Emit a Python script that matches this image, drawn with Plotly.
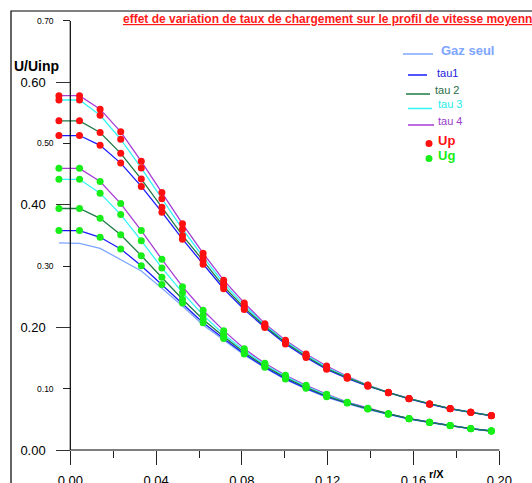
import plotly.graph_objects as go

W, H = 532, 483

# ---- data ----
r = [-0.0053, 0.0043, 0.0139, 0.0235, 0.0331, 0.0427, 0.0523, 0.0619, 0.0715, 0.0811,
     0.0907, 0.1003, 0.1099, 0.1195, 0.1291, 0.1387, 0.1483, 0.1579, 0.1675, 0.1771,
     0.1867, 0.1963]

gaz_seul = [0.338, 0.337, 0.329, 0.311, 0.292, 0.264, 0.235, 0.204, 0.179, 0.155, 0.134,
            0.115, 0.0995, 0.086, 0.0755, 0.066, 0.058, 0.0505, 0.0445, 0.039, 0.0345, 0.0305]

up_tau1 = [0.513, 0.513, 0.497, 0.468, 0.430, 0.388, 0.344, 0.303, 0.263, 0.229, 0.200,
           0.173, 0.151, 0.1316, 0.117, 0.104, 0.0932, 0.0835, 0.0748, 0.0673, 0.0614, 0.0558]
up_tau2 = [0.537, 0.537, 0.518, 0.484, 0.442, 0.396, 0.350, 0.309, 0.267, 0.232, 0.202,
           0.175, 0.153, 0.133, 0.118, 0.105, 0.0935, 0.0837, 0.075, 0.0674, 0.0615, 0.056]
up_tau3 = [0.571, 0.571, 0.546, 0.507, 0.460, 0.410, 0.3605, 0.315, 0.272, 0.236, 0.204,
           0.177, 0.155, 0.135, 0.119, 0.1055, 0.0938, 0.0839, 0.0751, 0.0675, 0.0616, 0.0561]
up_tau4 = [0.578, 0.578, 0.556, 0.519, 0.471, 0.420, 0.369, 0.321, 0.277, 0.240, 0.206,
           0.179, 0.1566, 0.137, 0.120, 0.106, 0.0941, 0.0841, 0.0752, 0.0676, 0.0617, 0.0562]

ug_tau1 = [0.358, 0.358, 0.347, 0.328, 0.3007, 0.270, 0.240, 0.2077, 0.182, 0.1566, 0.135,
           0.116, 0.1006, 0.087, 0.0765, 0.067, 0.0585, 0.051, 0.045, 0.0397, 0.0348, 0.031]
ug_tau2 = [0.394, 0.394, 0.378, 0.351, 0.317, 0.282, 0.246, 0.213, 0.185, 0.159, 0.137,
           0.118, 0.102, 0.088, 0.077, 0.0673, 0.0587, 0.0511, 0.0451, 0.0398, 0.0348, 0.031]
ug_tau3 = [0.4416, 0.4416, 0.419, 0.384, 0.3415, 0.297, 0.2567, 0.220, 0.189, 0.162, 0.139,
           0.120, 0.104, 0.090, 0.0775, 0.0676, 0.059, 0.0512, 0.0452, 0.0399, 0.0349, 0.0311]
ug_tau4 = [0.4595, 0.4595, 0.438, 0.402, 0.358, 0.311, 0.2665, 0.228, 0.1947, 0.165, 0.1414,
           0.122, 0.1055, 0.091, 0.078, 0.068, 0.0592, 0.0513, 0.0453, 0.04, 0.035, 0.0312]

x_major = [0.00, 0.04, 0.08, 0.12, 0.16, 0.20]
x_minor = [0.02, 0.06, 0.10, 0.14, 0.18]
y_major = [0.00, 0.20, 0.40, 0.60]
y_minor = [0.10, 0.30, 0.50, 0.70]

# ---- styles ----
C_GAZ = "#7ea6ff"
C_TAU = ["#1a1aff", "#1f7a45", "#33f5f5", "#a83cd6"]
C_UP = "#ff1010"
C_UG = "#18ee18"
FONT = "Liberation Sans, Arial, sans-serif"

# pixel mapping helpers (axis placement only)
X0PX, XSCALE = 70.3, 2145.0     # r=0 at px 70.3
Y0PX, YSCALE = 450.0, 613.0     # v=0 at px 450
xr = [(0 - X0PX) / XSCALE, (W - X0PX) / XSCALE]
yr = [(Y0PX - H) / YSCALE, Y0PX / YSCALE]

fig = go.Figure()

fig.add_trace(go.Scatter(x=r, y=gaz_seul, mode="lines",
                         line=dict(color=C_GAZ, width=1.3), showlegend=False, hoverinfo="skip"))

ups = [up_tau1, up_tau2, up_tau3, up_tau4]
ugs = [ug_tau1, ug_tau2, ug_tau3, ug_tau4]
for k in [3, 2, 0, 1]:
    fig.add_trace(go.Scatter(x=r, y=ugs[k], mode="lines",
                             line=dict(color=C_TAU[k], width=1.3), showlegend=False))
for k in [3, 2, 0, 1]:
    fig.add_trace(go.Scatter(x=r, y=ups[k], mode="lines",
                             line=dict(color=C_TAU[k], width=1.3), showlegend=False))
for k in range(4):
    fig.add_trace(go.Scatter(x=r, y=ugs[k], mode="markers",
                             marker=dict(color=C_UG, size=7), showlegend=False, cliponaxis=False))
for k in range(4):
    fig.add_trace(go.Scatter(x=r, y=ups[k], mode="markers",
                             marker=dict(color=C_UP, size=7), showlegend=False, cliponaxis=False))

# dummy trace for the secondary y axis (small tick labels)
fig.add_trace(go.Scatter(x=[None], y=[None], yaxis="y2", showlegend=False, hoverinfo="skip"))

fig.update_layout(
    width=W, height=H, margin=dict(l=0, r=0, t=0, b=0, autoexpand=False),
    paper_bgcolor="white", plot_bgcolor="white",
    font=dict(family=FONT, color="black"),
    xaxis=dict(range=xr, domain=[0, 1], anchor="free", position=1 - Y0PX / H,
               automargin=False,
               showgrid=False, zeroline=False, showline=False,
               tickmode="array", tickvals=x_major, tickformat=".2f",
               ticks="outside", ticklen=14, tickwidth=1, tickcolor="#222",
               tickfont=dict(size=13, family=FONT, color="black"),
               ticklabelstandoff=4,
               minor=dict(tickmode="array", tickvals=x_minor, ticks="outside",
                          ticklen=7, tickwidth=1, tickcolor="#222")),
    yaxis=dict(range=yr, domain=[0, 1], anchor="free", position=X0PX / W,
               automargin=False,
               showgrid=False, zeroline=False, showline=False,
               tickmode="array", tickvals=y_major, tickformat=".2f",
               ticks="outside", ticklen=14, tickwidth=1, tickcolor="#333",
               tickfont=dict(size=13, family=FONT, color="black"),
               ticklabelstandoff=8),
    yaxis2=dict(range=yr, overlaying="y", anchor="free", position=X0PX / W, side="left",
                automargin=False,
                showgrid=False, zeroline=False, showline=False,
                tickmode="array", tickvals=y_minor, tickformat=".2f",
                ticks="outside", ticklen=7, tickwidth=1, tickcolor="#222",
                tickfont=dict(size=8.5, family=FONT, color="black"),
                ticklabelstandoff=8),
)

shapes = [
    # axis lines
    dict(type="line", xref="x", yref="y", x0=0, x1=0.2, y0=0, y1=0, line=dict(color="black", width=1.2)),
    dict(type="line", xref="x", yref="y", x0=0, x1=0, y0=0, y1=0.7, line=dict(color="black", width=1.2)),
    # frame
    dict(type="rect", xref="paper", yref="paper", x0=11 / W, x1=1.2, y0=-0.2, y1=1 - 11 / H,
         line=dict(color="black", width=1.2)),
]

annotations = [
    dict(text="<u><b>effet de variation de taux de chargement sur le profil de vitesse moyenne</b></u>",
         xref="paper", yref="paper", x=121 / W, y=1 - 19 / H, xanchor="left", yanchor="middle",
         showarrow=False, font=dict(size=12, color="#ff1a1a", family=FONT)),
    dict(text="<b>U/Uinp</b>", xref="paper", yref="paper", x=12 / W, y=1 - 66 / H,
         xanchor="left", yanchor="middle", showarrow=False, font=dict(size=14, color="black", family=FONT)),
    dict(text="<b>r/X</b>", xref="paper", yref="paper", x=436 / W, y=1 - 474 / H,
         xanchor="center", yanchor="middle", showarrow=False, font=dict(size=11, color="black", family=FONT)),
]

# legend (custom layout)
leg = [
    ("<b>Gaz seul</b>", C_GAZ, C_GAZ, 403, 433, 54, 439, 51, 13),
    ("tau1", "#2222dd", C_TAU[0], 408, 427, 75, 435, 73, 11),
    ("tau 2", "#2a6e4a", C_TAU[1], 406, 430, 94, 433, 90, 11),
    ("tau 3", "#22eeee", C_TAU[2], 408, 432, 108.5, 436, 104, 11),
    ("tau 4", "#9a3cc8", C_TAU[3], 408, 434, 125, 436, 121, 11),
]
for text, col, lc, lx0, lx1, ly, tx, ty, fs in leg:
    shapes.append(dict(type="line", xref="paper", yref="paper", x0=lx0 / W, x1=lx1 / W,
                       y0=1 - ly / H, y1=1 - ly / H, line=dict(color=lc, width=1.5)))
    annotations.append(dict(text=text, xref="paper", yref="paper", x=tx / W, y=1 - ty / H,
                            xanchor="left", yanchor="middle", showarrow=False,
                            font=dict(size=fs, color=col, family=FONT)))
for text, col, cy, ty in [("<b>Up</b>", C_UP, 143.5, 140.5), ("<b>Ug</b>", C_UG, 158.5, 155.5)]:
    shapes.append(dict(type="circle", xref="paper", yref="paper", x0=(429 - 3.5) / W, x1=(429 + 3.5) / W,
                       y0=1 - (cy + 3.5) / H, y1=1 - (cy - 3.5) / H, fillcolor=col, line=dict(width=0)))
    annotations.append(dict(text=text, xref="paper", yref="paper", x=436 / W, y=1 - ty / H,
                            xanchor="left", yanchor="middle", showarrow=False,
                            font=dict(size=13, color=col, family=FONT)))

fig.update_layout(shapes=shapes, annotations=annotations)
fig.write_html("out.html")
